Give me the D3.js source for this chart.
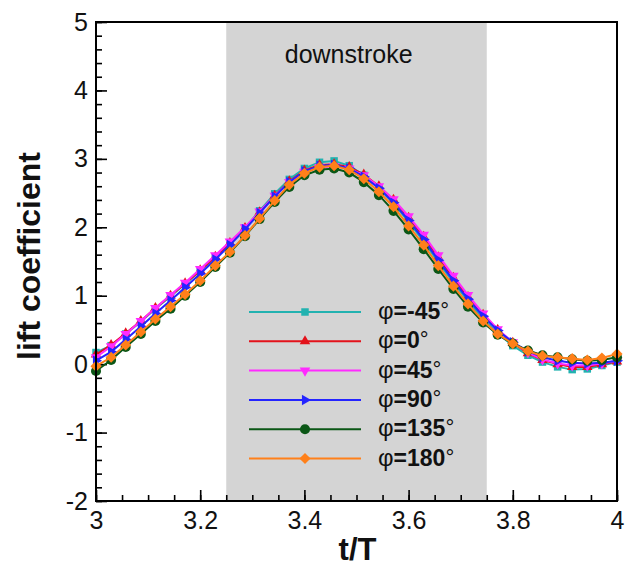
<!DOCTYPE html>
<html>
<head>
<meta charset="utf-8">
<script src="https://cdn.jsdelivr.net/npm/d3@7"></script>
<style>
  body { margin: 0; background: #fff; }
  svg { display: block; font-family: "Liberation Sans", Arial, sans-serif; }
</style>
</head>
<body>
<div id="chart-area"></div>
<script>
// data
var tValues = [3.000, 3.029, 3.057, 3.086, 3.114, 3.143, 3.171, 3.200, 3.229, 3.257, 3.286, 3.314,
               3.343, 3.371, 3.400, 3.429, 3.457, 3.486, 3.514, 3.543, 3.571, 3.600, 3.629, 3.657,
               3.686, 3.714, 3.743, 3.771, 3.800, 3.829, 3.857, 3.886, 3.914, 3.943, 3.971, 4.000];

var phiM45 = [0.17, 0.27, 0.44, 0.62, 0.81, 0.99, 1.17, 1.36, 1.56, 1.76, 1.99, 2.24, 2.49, 2.70, 2.86, 2.95, 2.97, 2.90,
              2.76, 2.57, 2.35, 2.08, 1.79, 1.49, 1.19, 0.92, 0.66, 0.45, 0.27, 0.13, 0.03, -0.04, -0.08, -0.07, -0.02, 0.03];
var phi0   = [0.14, 0.28, 0.45, 0.63, 0.82, 1.00, 1.18, 1.37, 1.57, 1.77, 1.99, 2.22, 2.46, 2.67, 2.83, 2.91, 2.92, 2.88,
              2.77, 2.60, 2.40, 2.14, 1.86, 1.56, 1.26, 0.98, 0.72, 0.50, 0.31, 0.16, 0.06, 0.00, -0.04, -0.04, 0.00, 0.04];
var phi45  = [0.10, 0.26, 0.44, 0.63, 0.82, 1.01, 1.19, 1.39, 1.59, 1.79, 2.00, 2.23, 2.46, 2.66, 2.81, 2.88, 2.89, 2.86,
              2.76, 2.60, 2.41, 2.16, 1.89, 1.59, 1.29, 1.01, 0.74, 0.51, 0.32, 0.17, 0.07, 0.01, -0.02, -0.02, 0.01, 0.05];
var phi90  = [0.05, 0.18, 0.36, 0.55, 0.74, 0.93, 1.12, 1.32, 1.53, 1.74, 1.97, 2.21, 2.45, 2.66, 2.82, 2.90, 2.91, 2.86,
              2.74, 2.57, 2.36, 2.10, 1.82, 1.52, 1.22, 0.95, 0.70, 0.49, 0.32, 0.19, 0.10, 0.05, 0.02, 0.01, 0.02, 0.05];
var phi135 = [-0.10, 0.06, 0.25, 0.44, 0.63, 0.81, 1.00, 1.20, 1.42, 1.63, 1.87, 2.12, 2.37, 2.59, 2.76, 2.84, 2.86, 2.80,
              2.66, 2.47, 2.24, 1.97, 1.68, 1.39, 1.10, 0.84, 0.61, 0.43, 0.30, 0.20, 0.13, 0.10, 0.07, 0.05, 0.06, 0.10];
var phi180 = [-0.03, 0.10, 0.28, 0.47, 0.66, 0.84, 1.02, 1.22, 1.44, 1.64, 1.88, 2.13, 2.39, 2.62, 2.79, 2.88, 2.90, 2.84,
              2.71, 2.52, 2.30, 2.02, 1.74, 1.44, 1.14, 0.88, 0.63, 0.44, 0.30, 0.19, 0.12, 0.10, 0.08, 0.06, 0.09, 0.15];

var seriesNames = ["-45", "0", "45", "90", "135", "180"];
var seriesValues = [phiM45, phi0, phi45, phi90, phi135, phi180];
var seriesColors = ["#22b2b0", "#e3121b", "#ff2bff", "#2424ff", "#0b5716", "#ff801a"];

var xMajorTicks = [3, 3.2, 3.4, 3.6, 3.8, 4];
var yMajorTicks = [-2, -1, 0, 1, 2, 3, 4, 5];
var strokeRange = [3.25, 3.75];

var margin = {top: 22, left: 96, bottom: 79, right: 12},
    width = 629 - margin.left - margin.right,
    height = 580 - margin.top - margin.bottom;

var svg = d3.select("#chart-area").append("svg")
    .attr("width", 629)
    .attr("height", 580);
var g = svg.append("g")
    .attr("transform", "translate(" + margin.left + ", " + margin.top + ")");

var x = d3.scaleLinear().domain([3, 4]).range([0, width]);
var y = d3.scaleLinear().domain([-2, 5]).range([height, 0]);

// downstroke shading
g.append("rect")
    .attr("x", x(strokeRange[0]))
    .attr("y", 0)
    .attr("width", x(strokeRange[1]) - x(strokeRange[0]))
    .attr("height", height)
    .attr("fill", "#d4d4d4");

g.append("text")
    .attr("x", x(3.485))
    .attr("y", 41)
    .attr("text-anchor", "middle")
    .attr("font-size", "25px")
    .attr("fill", "#111")
    .text("downstroke");

// axes: minor ticks first, then majors with labels
var plain = (d) => String(d);
var xMinor = g.append("g")
    .attr("transform", "translate(0, " + height + ")")
    .call(d3.axisBottom(x).tickValues(d3.range(3, 4.001, 0.05)).tickSize(-6).tickFormat(""));
var xAxis = g.append("g")
    .attr("transform", "translate(0, " + height + ")")
    .call(d3.axisBottom(x).tickValues(xMajorTicks).tickSize(-11).tickPadding(10).tickFormat(plain));
var yMinor = g.append("g")
    .call(d3.axisLeft(y).tickValues(d3.range(-2, 5.001, 0.2)).tickSize(-6).tickFormat(""));
var yAxis = g.append("g")
    .call(d3.axisLeft(y).tickValues(yMajorTicks).tickSize(-11).tickPadding(8).tickFormat(plain));

[xMinor, xAxis, yMinor, yAxis].forEach((a) => {
    a.select(".domain").remove();
    a.selectAll(".tick line").attr("stroke", "#000").attr("stroke-width", 1.6);
    a.selectAll(".tick text").attr("font-size", "25px").attr("fill", "#111")
        .attr("font-family", "Liberation Sans, Arial, sans-serif");
});

// series
var line = d3.line()
    .x((d) => x(d.t))
    .y((d) => y(d.v));

var symbols = [
    {type: d3.symbolSquare, size: 56, rotate: 0},
    {type: d3.symbolTriangle, size: 48, rotate: 0},
    {type: d3.symbolTriangle, size: 48, rotate: 180},
    {type: d3.symbolTriangle, size: 48, rotate: 90},
    {type: d3.symbolCircle, size: 80, rotate: 0},
    {type: d3.symbolSquare, size: 62, rotate: 45}
];

var plot = g.append("g");
seriesValues.forEach((vals, i) => {
    var pts = vals.map((v, j) => { return {t: tValues[j], v: v}; });
    plot.append("path")
        .datum(pts)
        .attr("fill", "none")
        .attr("stroke", seriesColors[i])
        .attr("stroke-width", 2)
        .attr("d", line);
    var sym = d3.symbol().type(symbols[i].type).size(symbols[i].size);
    plot.selectAll(".m" + i)
        .data(pts)
        .enter().append("path")
        .attr("class", "m" + i)
        .attr("transform", (d) => "translate(" + x(d.t) + "," + y(d.v) + ") rotate(" + symbols[i].rotate + ")")
        .attr("d", sym)
        .attr("fill", seriesColors[i]);
});

// legend
var legend = g.append("g").attr("transform", "translate(" + (249 - margin.left) + ", " + (312 - margin.top) + ")");
seriesNames.forEach((name, i) => {
    var row = legend.append("g").attr("transform", "translate(0, " + (i * 29.3) + ")");
    row.append("line")
        .attr("x1", 0).attr("x2", 112)
        .attr("stroke", seriesColors[i])
        .attr("stroke-width", 2);
    row.append("path")
        .attr("transform", "translate(56,0) rotate(" + symbols[i].rotate + ")")
        .attr("d", d3.symbol().type(symbols[i].type).size(symbols[i].size))
        .attr("fill", seriesColors[i]);
    var txt = row.append("text")
        .attr("x", 129)
        .attr("y", 7)
        .attr("font-size", "23px")
        .attr("fill", "#111");
    txt.append("tspan").attr("font-size", "24px").text("φ");
    txt.append("tspan").attr("font-weight", "bold").text("=" + name);
    txt.append("tspan").attr("font-size", "22px").attr("dy", -1).text("°");
});

// frame
g.append("rect")
    .attr("width", width)
    .attr("height", height)
    .attr("fill", "none")
    .attr("stroke", "#000")
    .attr("stroke-width", 2);

// axis titles
svg.append("text")
    .attr("x", margin.left + width / 2 + 1)
    .attr("y", 560)
    .attr("text-anchor", "middle")
    .attr("font-size", "31px")
    .attr("font-weight", "bold")
    .attr("fill", "#111")
    .text("t/T");

svg.append("text")
    .attr("transform", "translate(40, 256) rotate(-90)")
    .attr("text-anchor", "middle")
    .attr("font-size", "32px")
    .attr("font-weight", "bold")
    .attr("fill", "#111")
    .text("lift coefficient");
</script>
</body>
</html>
